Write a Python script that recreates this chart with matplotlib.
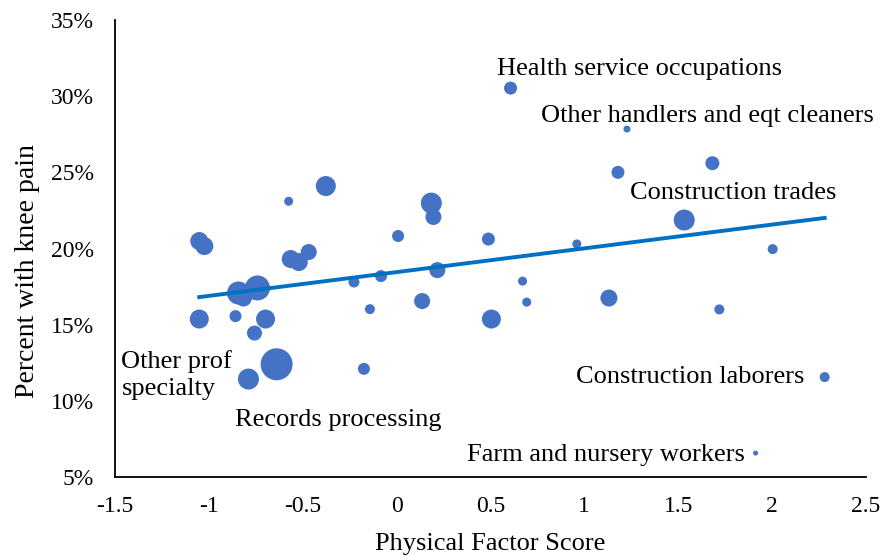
import numpy as np
import matplotlib
matplotlib.use("Agg")
import matplotlib.pyplot as plt
from matplotlib.ticker import FuncFormatter

# physical factor score, percent with knee pain, relative bubble weight
score = [0.607, 1.227, 1.682, 1.179, 1.532, 2.003, 1.719, 1.131, 2.280, 1.912,
         0.960, 0.671, 0.693, 0.505, 0.489, 0.185, 0.196, 0.217, 0.136, 0.008,
         -0.083, -0.227, -0.142, -0.174, -0.377, -0.575, -1.051, -1.024, -0.564, -0.521,
         -0.468, -0.842, -0.816, -0.741, -1.051, -0.858, -0.698, -0.757, -0.639, -0.789]
knee_pain = [30.53, 27.84, 25.60, 25.00, 21.87, 19.96, 16.00, 16.75, 11.56, 6.57,
             20.30, 17.86, 16.48, 15.37, 20.62, 22.98, 22.07, 18.58, 16.55, 20.82,
             18.19, 17.80, 16.02, 12.10, 24.10, 23.10, 20.49, 20.16, 19.31, 19.11,
             19.77, 17.08, 16.75, 17.41, 15.37, 15.56, 15.37, 14.45, 12.40, 11.43]
weight = [1.69, 0.49, 1.96, 1.69, 4.41, 1.00, 1.00, 2.89, 1.00, 0.25,
          0.81, 0.81, 0.81, 3.61, 1.69, 4.41, 2.56, 2.56, 2.56, 1.44,
          1.44, 1.21, 1.00, 1.44, 4.00, 0.81, 3.24, 3.24, 3.24, 3.24,
          2.56, 5.29, 2.89, 6.25, 3.61, 1.44, 3.61, 2.25, 10.24, 4.41]

# linear trendline
trend_slope = 1.56
trend_intercept = 18.45

plt.rcParams["font.family"] = ["Liberation Serif", "DejaVu Serif"]

fig = plt.figure(figsize=(8.83, 5.57), dpi=100)
ax = fig.add_axes([0.1302, 0.1436, 0.8505, 0.8205])

sizes = np.array(weight) * 51.84
ax.scatter(score, knee_pain, s=sizes, color="#4472C4", edgecolors="none", zorder=2)

tx = np.array([min(score), max(score)])
ax.plot(tx, trend_intercept + trend_slope * tx, color="#0070C0", linewidth=2.8, zorder=3)

ax.set_xlim(-1.5, 2.5)
ax.set_ylim(5, 35)
ax.set_xticks(np.arange(-1.5, 2.51, 0.5))
ax.set_yticks(np.arange(5, 36, 5))
ax.xaxis.set_major_formatter(FuncFormatter(lambda v, p: f"{v:g}"))
ax.yaxis.set_major_formatter(FuncFormatter(lambda v, p: f"{v:.0f}%"))
ax.tick_params(axis="both", length=0, labelsize=17)
ax.tick_params(axis="y", pad=15)
ax.tick_params(axis="x", pad=14)

for side in ["top", "right"]:
    ax.spines[side].set_visible(False)
for side in ["left", "bottom"]:
    ax.spines[side].set_linewidth(1.3)

ax.set_xlabel("Physical Factor Score", fontsize=19, labelpad=11)
ax.set_ylabel("Percent with knee pain", fontsize=20)
ax.yaxis.set_label_coords(-0.10, 0.45)

fs = 19
ax.annotate("Health service occupations", (score[0], knee_pain[0]), xytext=(-9.4, 13.5),
            textcoords="offset points", ha="left", va="center", fontsize=fs)
ax.annotate("Other handlers and eqt cleaners", (score[1], knee_pain[1]), xytext=(-62, 9.5),
            textcoords="offset points", ha="left", va="center", fontsize=fs)
ax.annotate("Construction trades", (score[4], knee_pain[4]), xytext=(-39, 19.5),
            textcoords="offset points", ha="left", va="center", fontsize=fs)
ax.annotate("Construction laborers", (score[8], knee_pain[8]), xytext=(-14.5, 0),
            textcoords="offset points", ha="right", va="center", fontsize=fs)
ax.annotate("Farm and nursery workers", (score[9], knee_pain[9]), xytext=(-8, -1.4),
            textcoords="offset points", ha="right", va="center", fontsize=fs)
ax.annotate("Other prof\nspecialty", (score[34], knee_pain[34]), xytext=(-56, -40),
            textcoords="offset points", ha="left", va="center", fontsize=fs,
            linespacing=1.3)
ax.annotate("Records processing", (score[39], knee_pain[39]), xytext=(-10, -29.5),
            textcoords="offset points", ha="left", va="center", fontsize=fs)

fig.savefig("out.png", dpi=100)
